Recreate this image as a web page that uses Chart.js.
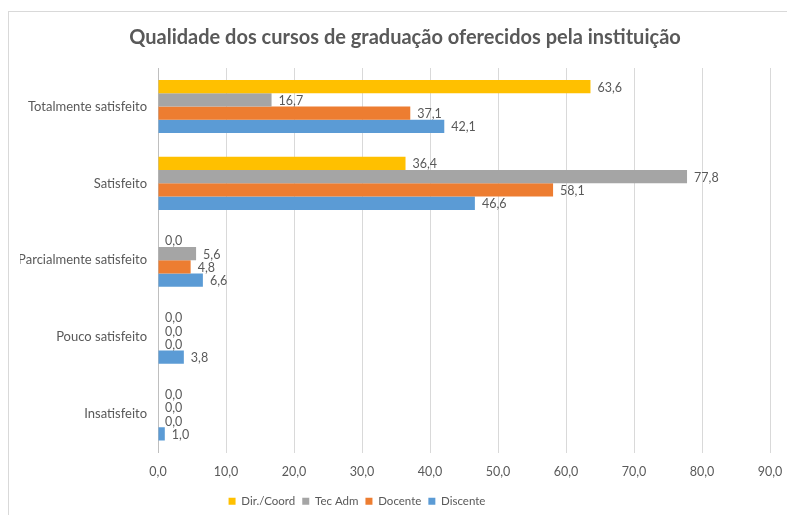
<!DOCTYPE html>
<html>
<head>
<meta charset="utf-8">
<script src="https://cdn.jsdelivr.net/npm/chart.js@4.4.1/dist/chart.umd.min.js"></script>
<style>
  html, body { margin: 0; padding: 0; background: #fff; }
  #wrap { position: relative; width: 787px; height: 515px; overflow: hidden; }
  #frame { position: absolute; left: 8px; top: 11px; width: 900px; height: 600px;
           border-left: 1px solid #d9d9d9; border-top: 1px solid #d9d9d9; }
  #canvas { position: absolute; left: 0; top: 0; }
</style>
</head>
<body>
<div id="wrap">
  <div id="frame"></div>
  <canvas id="canvas" width="787" height="515"></canvas>
</div>
<script>
const categorias = ["Totalmente satisfeito", "Satisfeito", "Parcialmente satisfeito", "Pouco satisfeito", "Insatisfeito"];
const dirCoord = [63.6, 36.4, 0.0, 0.0, 0.0];
const tecAdm = [16.7, 77.8, 5.6, 0.0, 0.0];
const docente = [37.1, 58.1, 4.8, 0.0, 0.0];
const discente = [42.1, 46.6, 6.6, 3.8, 1.0];
const xMax = 90;
const xStep = 10;

const fonte = "Lato, 'Open Sans', sans-serif";
const cinza = "#595959";

const fmt = (v) => v.toFixed(1).replace(".", ",");

// rótulos de valor no fim de cada barra
const rotulos = {
  id: "rotulos",
  afterDatasetsDraw(chart) {
    const ctx = chart.ctx;
    ctx.save();
    ctx.font = "12.5px " + fonte;
    ctx.fillStyle = cinza;
    ctx.textAlign = "left";
    ctx.textBaseline = "middle";
    chart.data.datasets.forEach((ds, i) => {
      chart.getDatasetMeta(i).data.forEach((bar, j) => {
        ctx.fillText(fmt(ds.data[j]), bar.x + 7, bar.y + 1);
      });
    });
    ctx.restore();
  },
};

// desloca título e legenda como no Excel
const ajuste = {
  id: "ajuste",
  afterLayout(chart) {
    if (chart.titleBlock) {
      chart.titleBlock.left += 10;
      chart.titleBlock.right += 10;
    }
    if (chart.legend) {
      chart.legend.left -= 38;
      chart.legend.right -= 38;
      chart.legend.top += 2;
      chart.legend.bottom += 2;
    }
  },
};

var ctx = document.getElementById("canvas").getContext("2d");
var barChart = new Chart(ctx, {
  type: "bar",
  data: {
    labels: categorias,
    datasets: [
      { label: "Dir./Coord", data: dirCoord, backgroundColor: "#FFC000" },
      { label: "Tec Adm", data: tecAdm, backgroundColor: "#A5A5A5" },
      { label: "Docente", data: docente, backgroundColor: "#ED7D31" },
      { label: "Discente", data: discente, backgroundColor: "#5B9BD5" },
    ],
  },
  options: {
    indexAxis: "y",
    responsive: false,
    animation: false,
    datasets: {
      bar: { categoryPercentage: 0.69, barPercentage: 1.0 },
    },
    layout: { padding: { left: 20, right: 17, top: 0, bottom: 0 } },
    scales: {
      x: {
        min: 0,
        max: xMax,
        afterFit: (scale) => {
          scale.height -= 5;
          scale.paddingRight = 0;
          scale.paddingLeft = 0;
        },
        ticks: {
          stepSize: xStep,
          padding: 12,
          color: cinza,
          font: { family: fonte, size: 12.5 },
          callback: (v) => fmt(v),
        },
        grid: { color: "#d9d9d9", drawTicks: false },
        border: { display: false },
      },
      y: {
        afterFit: (scale) => { scale.width = 138; },
        ticks: {
          padding: 11,
          color: cinza,
          font: { family: fonte, size: 13 },
        },
        grid: { display: false, drawTicks: false },
        border: { display: true, color: "#bfbfbf" },
      },
    },
    plugins: {
      title: {
        display: true,
        text: "Qualidade dos cursos de graduação oferecidos pela instituição",
        color: cinza,
        font: { family: fonte, size: 20, weight: "bold" },
        padding: { top: 26, bottom: 18 },
      },
      legend: {
        position: "bottom",
        labels: {
          boxWidth: 7,
          boxHeight: 7,
          padding: 7,
          color: cinza,
          font: { family: fonte, size: 11.5 },
        },
      },
      tooltip: { enabled: false },
    },
  },
  plugins: [rotulos, ajuste],
});
</script>
</body>
</html>
